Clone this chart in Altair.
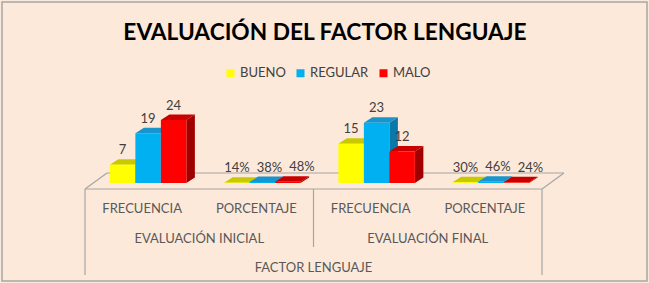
import altair as alt
import pandas as pd

# ---------------- data ----------------
title_text = "EVALUACIÓN DEL FACTOR LENGUAJE"
series = ["BUENO", "REGULAR", "MALO"]
level1 = ["FRECUENCIA", "PORCENTAJE", "FRECUENCIA", "PORCENTAJE"]
level2 = ["EVALUACIÓN INICIAL", "EVALUACIÓN FINAL"]
level3 = ["FACTOR LENGUAJE"]
bueno = [7, 0.14, 15, 0.30]
regular = [19, 0.38, 23, 0.46]
malo = [24, 0.48, 12, 0.24]

# ---------------- style ----------------
colors_front = ["#FFFF00", "#00B0F0", "#FF0000"]
colors_top = ["#C9C900", "#1A94CC", "#C80000"]
colors_side = ["#9A9A00", "#0A78A8", "#A00000"]
BG = "#FDE9D9"
FONT = "Lato"
TXT = "#404040"
LINE = "#A6A6A6"

# scale geometry (pixels)
X_PX = [85, 542]     # category axis front edge
Y_PX = [183, 120]    # value 0 .. value 24
Y_MAX = 24
SX = (X_PX[1] - X_PX[0]) / 4.0
SY = (Y_PX[0] - Y_PX[1]) / Y_MAX

xs = alt.Scale(domain=[0, 4], range=X_PX, nice=False, zero=False)
ys = alt.Scale(domain=[0, Y_MAX], range=Y_PX, nice=False, zero=False)

G = 6 / SX          # depth shift of bars
W = 25.5 / SX       # bar width
DX = 8.5 / SX       # 3d depth x
DY = 5.5 / SY       # 3d depth y
FDX = 22 / SX       # floor depth x

vals = [bueno, regular, malo]
front, top, side, labs = [], [], [], []
for i in range(4):
    c = i + 0.5 + G
    pct = level1[i] == "PORCENTAJE"
    for j in range(3):
        v = vals[j][i]
        x0 = c + (j - 1.5) * W
        x1 = x0 + W
        fid = f"{i}-{j}"
        front.append(dict(x=x0, x2=x1, y=0, y2=v, series=series[j]))
        for xx, lo, hi in [(x0, v, v), (x0 + DX, v, v + DY), (x1, v, v + DY), (x1 + DX, v + DY, v + DY)]:
            top.append(dict(face=fid, x=xx, lo=lo, hi=hi, col=colors_top[j]))
        for xx, lo, hi in [(x1, 0, v), (x1 + DX, DY, v + DY)]:
            side.append(dict(face=fid, x=xx, lo=lo, hi=hi, col=colors_side[j]))
        nudge = (j * 7 / SX) if pct else 0
        lab = f"{round(v * 100)}%" if pct else f"{v:g}"
        labs.append(dict(x=(x0 + x1) / 2 + nudge, v=v, t=lab))

df_front = pd.DataFrame(front)
df_top = pd.DataFrame(top)
df_side = pd.DataFrame(side)
df_labs = pd.DataFrame(labs)

# floor / frame lines (x in category units, y in pixels)
floor = pd.DataFrame([
    dict(x=0, x2=4, y=189, y2=189),
    dict(x=FDX, x2=4 + FDX, y=173, y2=173),
    dict(x=0, x2=FDX, y=189, y2=173),
    dict(x=4, x2=4 + FDX, y=189, y2=173),
    dict(x=0, x2=0, y=189, y2=275),
    dict(x=4, x2=4, y=189, y2=275),
    dict(x=2, x2=2, y=189, y2=247),
])

rules = alt.Chart(floor).mark_rule(color=LINE, strokeWidth=1.2).encode(
    x=alt.X("x:Q", scale=xs, axis=None),
    x2="x2:Q",
    y=alt.Y("y:Q", scale=None, axis=None),
    y2="y2:Q",
)

sides = alt.Chart(df_side).mark_area(opacity=1).encode(
    x=alt.X("x:Q", scale=xs, axis=None),
    y=alt.Y("hi:Q", scale=ys, axis=None, stack=None),
    y2="lo:Q",
    detail="face:N",
    color=alt.Color("col:N", scale=None),
)

tops = alt.Chart(df_top).mark_area(opacity=1).encode(
    x=alt.X("x:Q", scale=xs, axis=None),
    y=alt.Y("hi:Q", scale=ys, axis=None, stack=None),
    y2="lo:Q",
    detail="face:N",
    color=alt.Color("col:N", scale=None),
)

fronts = alt.Chart(df_front).mark_rect().encode(
    x=alt.X("x:Q", scale=xs, axis=None),
    x2="x2:Q",
    y=alt.Y("y:Q", scale=ys, axis=None),
    y2="y2:Q",
    color=alt.Color(
        "series:N",
        scale=alt.Scale(domain=series, range=colors_front),
        legend=alt.Legend(
            orient="none", legendX=224, legendY=66.5, direction="horizontal",
            title=None, symbolType="square", symbolSize=64, symbolStrokeWidth=0,
            labelFont=FONT, labelFontSize=13, labelColor=TXT,
            columnPadding=8, labelOffset=3, padding=0,
        ),
    ),
)

labels = alt.Chart(df_labs).mark_text(
    font=FONT, fontSize=13, color=TXT, baseline="alphabetic", align="center", dy=-10.5
).encode(
    x=alt.X("x:Q", scale=xs, axis=None),
    y=alt.Y("v:Q", scale=ys, axis=None),
    text="t:N",
)

df_l1 = pd.DataFrame(dict(x=[i + 0.5 for i in range(4)], t=level1))
df_l2 = pd.DataFrame(dict(x=[1, 3], t=level2))
df_l3 = pd.DataFrame(dict(x=[2], t=level3))

def axis_text(df, ypx):
    return alt.Chart(df).mark_text(
        font=FONT, fontSize=13, color="#595959", baseline="alphabetic", align="center"
    ).encode(
        x=alt.X("x:Q", scale=xs, axis=None),
        y=alt.value(ypx),
        text="t:N",
    )

title = alt.Chart(pd.DataFrame(dict(t=[title_text]))).mark_text(
    font=FONT, fontSize=22.7, fontWeight="bold", color="#000000",
    baseline="alphabetic", align="center"
).encode(x=alt.value(325), y=alt.value(40), text="t:N")

border = alt.Chart(pd.DataFrame(dict(a=[0]))).mark_rect(
    fill=None, stroke=LINE, strokeWidth=1.5
).encode(x=alt.value(2), x2=alt.value(647), y=alt.value(2), y2=alt.value(281))

chart = alt.layer(
    border, rules, sides, tops, fronts, labels,
    axis_text(df_l1, 213), axis_text(df_l2, 243), axis_text(df_l3, 272), title,
).resolve_scale(color="independent").properties(
    width=649, height=283, background=BG, padding=0,
    autosize=alt.AutoSizeParams(type="none"),
).configure_view(stroke=None)

chart.save("out.html", embed_options={"renderer": "svg", "actions": False})
